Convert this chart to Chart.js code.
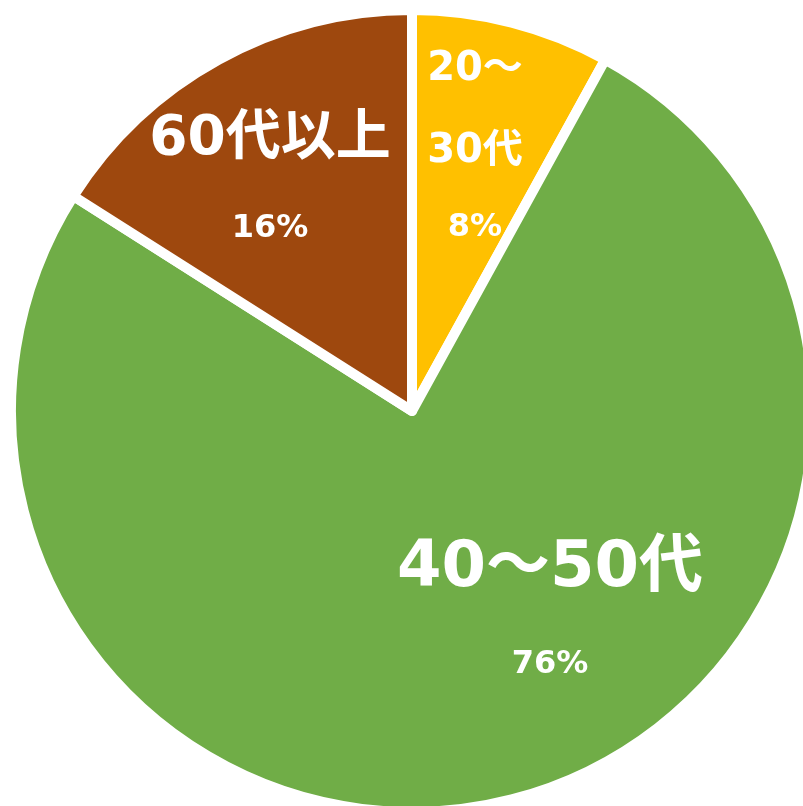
<!DOCTYPE html>
<html>
<head>
<meta charset="utf-8">
<script src="https://cdn.jsdelivr.net/npm/chart.js@4.4.0/dist/chart.umd.min.js"></script>
<style>
    html, body { margin: 0; padding: 0; background: #ffffff; overflow: hidden; width: 803px; height: 806px; }
    #chart { position: absolute; left: 0; top: 0; }
</style>
</head>
<body>
<canvas id="chart" width="824" height="822"></canvas>
<script>
const categories = ["20～30代", "40～50代", "60代以上"];
const nameLines = [["20～", "30代"], ["40～50代"], ["60代以上"]];
const shares = [8, 76, 16];
const sliceColors = ["#FFC000", "#70AD47", "#9E480E"];

// label placement relative to the pie centre (px), name lines then percent
const LABEL_LAYOUT = [
    { dx: 63, names: [-341, -259], nameSize: 40, pct: -183 },
    { dx: 138, names: [158], nameSize: 64, pct: 254 },
    { dx: -142, names: [-271], nameSize: 55, pct: -182 },
];

const sliceLabels = {
    id: "sliceLabels",
    afterDatasetsDraw(chart) {
        const ctx = chart.ctx;
        const meta = chart.getDatasetMeta(0);
        ctx.save();
        ctx.fillStyle = "#ffffff";
        ctx.textAlign = "center";
        ctx.textBaseline = "middle";
        meta.data.forEach((arc, i) => {
            const layout = LABEL_LAYOUT[i];
            const x = arc.x + layout.dx;
            ctx.font = `bold ${layout.nameSize}px "DejaVu Sans", "Noto Sans CJK JP", sans-serif`;
            nameLines[i].forEach((line, j) => {
                ctx.fillText(line, x, arc.y + layout.names[j]);
            });
            ctx.font = 'bold 32px "DejaVu Sans", "Noto Sans CJK JP", sans-serif';
            ctx.fillText(`${shares[i]}%`, x, arc.y + layout.pct);
        });
        ctx.restore();
    },
};

new Chart(document.getElementById("chart"), {
    type: "pie",
    data: {
        labels: categories,
        datasets: [{
            data: shares,
            backgroundColor: sliceColors,
            borderColor: "#ffffff",
            borderWidth: 10,
            borderJoinStyle: "round",
            radius: 401,
        }],
    },
    options: {
        responsive: false,
        animation: false,
        layout: { padding: 0 },
        plugins: {
            legend: { display: false },
            tooltip: { enabled: false },
        },
    },
    plugins: [sliceLabels],
});
</script>
</body>
</html>
